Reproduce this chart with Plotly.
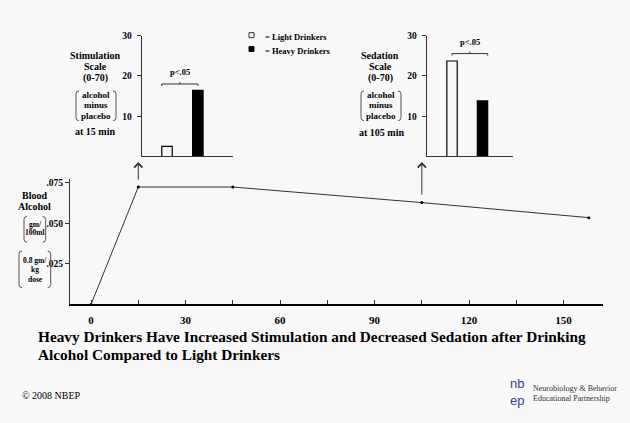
import plotly.graph_objects as go

# ---------------- data ----------------
time_min = [0, 15, 45, 105, 158]
blood_alcohol = [0.0, 0.0724, 0.0724, 0.0628, 0.0535]
time_ticks = [0, 15, 30, 45, 60, 75, 90, 105, 120, 135, 150, 165]
time_tick_labels = ["0", "", "30", "", "60", "", "90", "", "120", "", "150", ""]
bac_ticks = [0.025, 0.050, 0.075]
bac_tick_labels = [".025", ".050", ".075"]

groups = ["Light Drinkers", "Heavy Drinkers"]
stimulation_15min = [2.5, 16.4]
sedation_105min = [23.7, 13.8]
scale_ticks = [10, 20, 30]

W, H = 630, 423
BG = "#f8f8f8"
SERIF = "Liberation Serif, Times New Roman, serif"


def px(x):
    return x / W


def py(y):
    return 1 - y / H


fig = go.Figure()

# blood alcohol curve
fig.add_trace(go.Scatter(
    x=time_min, y=blood_alcohol, mode="lines+markers",
    line=dict(color="#333333", width=1),
    marker=dict(color="black", size=3),
    cliponaxis=False, showlegend=False, xaxis="x", yaxis="y"))

# bars
for xa, ya, vals in (("x2", "y2", stimulation_15min), ("x3", "y3", sedation_105min)):
    fig.add_trace(go.Bar(
        x=[0, 1], y=vals, width=0.34,
        marker=dict(color=[BG, "black"], line=dict(color="black", width=1.2)),
        showlegend=False, xaxis=xa, yaxis=ya))

xtickfont = dict(family=SERIF, size=11, color="black", weight="bold")
smallfont = dict(family=SERIF, size=9.5, color="black", weight="bold")

fig.update_layout(
    width=W, height=H,
    margin=dict(l=0, r=0, t=0, b=0),
    paper_bgcolor=BG, plot_bgcolor=BG,
    showlegend=False,
    xaxis=dict(domain=[px(70), px(603)], range=[-6.67, 162.5],
               tickvals=time_ticks, ticktext=time_tick_labels,
               ticks="inside", ticklen=4, tickcolor="#333",
               showline=True, linecolor="black", linewidth=2,
               showgrid=False, zeroline=False, tickfont=xtickfont,
               ticklabelstandoff=4),
    yaxis=dict(domain=[py(303), py(176)], range=[0, 0.0774],
               tickvals=bac_ticks, ticktext=bac_tick_labels,
               ticks="outside", ticklen=4, tickcolor="#333",
               showline=True, linecolor="#333", linewidth=1,
               showgrid=False, zeroline=False, tickfont=smallfont,
               ticklabelstandoff=0, anchor="x"),
    xaxis2=dict(domain=[px(141.7), px(233)], range=[-0.82, 2.14],
                showticklabels=False, ticks="", showline=True,
                linecolor="#333", linewidth=1, showgrid=False,
                zeroline=False, anchor="y2"),
    yaxis2=dict(domain=[py(153.3), py(31)], range=[0, 30],
                tickvals=scale_ticks, ticks="outside", ticklen=4,
                tickcolor="#333", showline=True, linecolor="#333",
                linewidth=1, showgrid=False, zeroline=False,
                tickfont=smallfont, anchor="x2", ticklabelstandoff=3),
    xaxis3=dict(domain=[px(426.7), px(512.7)], range=[-0.83, 1.99],
                showticklabels=False, ticks="", showline=True,
                linecolor="#333", linewidth=1, showgrid=False,
                zeroline=False, anchor="y3"),
    yaxis3=dict(domain=[py(153.3), py(31)], range=[0, 30],
                tickvals=scale_ticks, ticks="outside", ticklen=4,
                tickcolor="#333", showline=True, linecolor="#333",
                linewidth=1, showgrid=False, zeroline=False,
                tickfont=smallfont, anchor="x3", ticklabelstandoff=3),
)

annotations = []
shapes = []


def text(x, y, s, size=10, bold=True, color="black", xanchor="center",
         yanchor="middle", family=SERIF, pad=1):
    annotations.append(dict(
        x=px(x), y=py(y), xref="paper", yref="paper", text=f"<b>{s}</b>" if bold else s,
        showarrow=False, xanchor=xanchor, yanchor=yanchor, borderpad=pad,
        font=dict(family=family, size=size, color=color)))


def parens(x0, x1, y0, y1, r=3):
    c = "#555"
    lp = (f"M {px(x0 + r)},{py(y0)} Q {px(x0)},{py(y0)} {px(x0)},{py(y0 + r)} "
          f"L {px(x0)},{py(y1 - r)} Q {px(x0)},{py(y1)} {px(x0 + r)},{py(y1)}")
    rp = (f"M {px(x1 - r)},{py(y0)} Q {px(x1)},{py(y0)} {px(x1)},{py(y0 + r)} "
          f"L {px(x1)},{py(y1 - r)} Q {px(x1)},{py(y1)} {px(x1 - r)},{py(y1)}")
    for p in (lp, rp):
        shapes.append(dict(type="path", path=p, xref="paper", yref="paper",
                           line=dict(color=c, width=1)))


# stimulation label block
text(95, 50.7, "Stimulation")
text(95, 62.7, "Scale")
text(95, 74.3, "(0-70)")
text(96, 91, "alcohol", size=9)
text(96, 101.7, "minus", size=9)
text(96, 112, "placebo", size=9)
parens(76, 116, 87, 117)
text(95, 127.7, "at 15 min")

# sedation label block
text(380, 50.7, "Sedation")
text(380, 62.7, "Scale")
text(380, 74.3, "(0-70)")
text(381, 91, "alcohol", size=9)
text(381, 101.7, "minus", size=9)
text(381, 112, "placebo", size=9)
parens(361, 401, 87, 117)
text(381, 129, "at 105 min")

# blood alcohol label block
text(34, 192.7, "Blood")
text(34, 204.3, "Alcohol")
text(35, 222, "gm/", size=7.5)
text(35, 230.7, "100ml", size=7.5)
parens(24, 45.7, 214, 240)
text(35, 258.3, "0.8 gm/", size=7.5)
text(35, 267.3, "kg", size=7.5)
text(35, 277.3, "dose", size=7.5)
parens(19, 50.7, 249, 286)

# legend (drawn)
shapes.append(dict(type="rect", xref="paper", yref="paper",
                   x0=px(249), x1=px(254), y0=py(28), y1=py(33),
                   line=dict(color="#333", width=1), fillcolor=BG))
shapes.append(dict(type="rect", xref="paper", yref="paper",
                   x0=px(249), x1=px(254), y0=py(42), y1=py(47),
                   line=dict(color="black", width=1), fillcolor="black"))
text(263, 32, "= " + groups[0], size=8.5, xanchor="left")
text(263, 46.5, "= " + groups[1], size=8.5, xanchor="left")

# significance brackets
for xr, yr, vals, xa, xb, off in (("x2", "y2", stimulation_15min, -0.17, 1.0, 1.6),
                                  ("x3", "y3", sedation_105min, 0.0, 1.17, 1.85)):
    yb = max(vals) + off
    xm = (xa + xb) / 2
    shapes.append(dict(type="path", xref=xr, yref=yr,
                       path=f"M {xa},{yb - 0.5} L {xa},{yb} L {xb},{yb} L {xb},{yb - 0.5}",
                       line=dict(color="#333", width=1)))
    shapes.append(dict(type="line", xref=xr, yref=yr, x0=xm, x1=xm, y0=yb, y1=yb + 0.5,
                       line=dict(color="#333", width=1)))
    annotations.append(dict(x=xm, y=yb + 1.2, xref=xr, yref=yr, text="<b>p<.05</b>",
                            showarrow=False, yanchor="bottom",
                            font=dict(family=SERIF, size=8.5, color="black")))

# arrows linking the time points to the bar charts
for t, tail in ((15, 19), (105, 34)):
    annotations.append(dict(x=t, y=py(159), xref="x", yref="paper", ax=0, ay=tail,
                            axref="pixel", ayref="pixel", showarrow=True, text="",
                            arrowhead=4, arrowsize=1.6, arrowwidth=1, arrowcolor="#333"))

# title
text(36, 335, "Heavy Drinkers Have Increased Stimulation and Decreased Sedation after Drinking",
     size=15.3, xanchor="left")
text(36, 354, "Alcohol Compared to Light Drinkers", size=15.3, xanchor="left")

# footer
text(20, 395, "© 2008 NBEP", size=10, bold=False, xanchor="left")
LOGO = "#3b3f94"
text(509, 391.5, "nb", size=13, bold=False, color=LOGO, xanchor="left",
     yanchor="bottom", family="Liberation Sans", pad=0)
text(509, 391.5, "ep", size=13, bold=False, color=LOGO, xanchor="left",
     yanchor="top", family="Liberation Sans", pad=0)
text(531, 388, "Neurobiology &amp; Behavior", size=8, bold=False, color="#333", xanchor="left")
text(531, 398, "Educational Partnership", size=8, bold=False, color="#333", xanchor="left")

fig.update_layout(annotations=annotations, shapes=shapes)
fig.write_html("out.html", config={"displayModeBar": False},
               post_script="document.body.style.margin='0';document.body.style.overflow='hidden';")
